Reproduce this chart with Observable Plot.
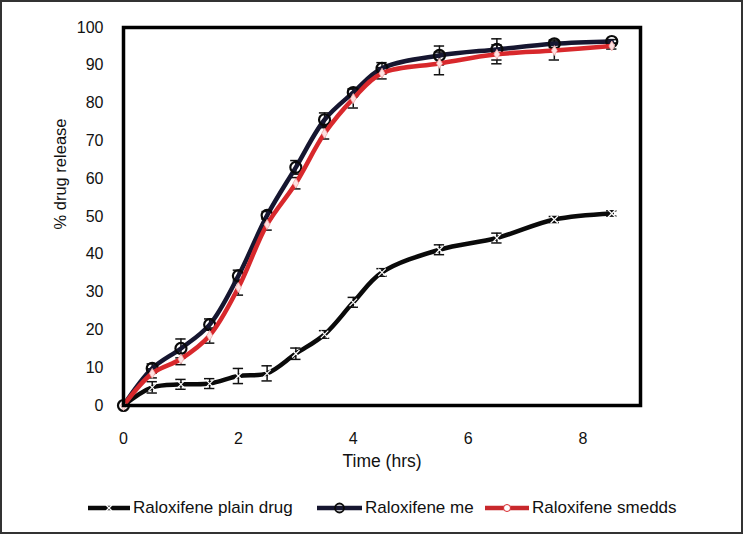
<!DOCTYPE html>
<html><head><meta charset="utf-8">
<script src="https://cdn.jsdelivr.net/npm/d3@7"></script>
<script src="https://cdn.jsdelivr.net/npm/@observablehq/plot@0.6"></script>
<style>
html,body{margin:0;padding:0;background:#fff;}
#wrap{width:743px;height:534px;position:relative;font-family:"Liberation Sans",Arial,sans-serif;overflow:hidden;}
#chart{position:absolute;left:0;top:0;}
#chart g[aria-label$="tick label"]{font-size:16px;}
#border{position:absolute;left:0;top:0;width:743px;height:534px;box-sizing:border-box;border:2px solid #333;pointer-events:none;}
#legend{position:absolute;left:0;top:496px;width:743px;font-size:17px;color:#111;}
.item{position:absolute;top:0;display:flex;align-items:center;height:24px;}
</style></head>
<body><div id="wrap"><div id="chart"></div><div id="legend"></div><div id="border"></div></div>
<script>
const time = [0, 0.5, 1, 1.5, 2, 2.5, 3, 3.5, 4, 4.5, 5.5, 6.5, 7.5, 8.5];
const plain = [0, 4.8, 5.6, 5.8, 7.8, 8.5, 13.7, 18.8, 27.3, 35.2, 41.2, 44.3, 49.2, 50.8];
const plainErr = [0.5, 1.5, 1.3, 1.3, 2, 2, 1.5, 1, 1.3, 1, 1.3, 1.3, 0.8, 0.7];
const me = [0, 9.8, 15.1, 21.4, 34.3, 50.3, 63.0, 75.6, 82.8, 89.2, 92.6, 94.2, 95.7, 96.3];
const meErr = [0.5, 1.2, 2.5, 1.5, 1.5, 1, 1.8, 1.8, 1, 1.5, 2.5, 2.8, 1, 0.5];
const smedds = [0, 8.5, 12.3, 18.5, 31.2, 47.9, 58.8, 72.0, 81.2, 87.9, 90.5, 92.9, 93.9, 95.1];
const smeddsErr = [0.5, 1.2, 1.5, 2, 2, 1.5, 1.5, 1.5, 2.5, 1.5, 3, 2.5, 2.5, 0.8];
const seriesNames = ["Raloxifene plain drug", "Raloxifene me", "Raloxifene smedds"];
const xTicks = [0, 2, 4, 6, 8];
const yTicks = [0, 10, 20, 30, 40, 50, 60, 70, 80, 90, 100];

const mk = (vals, errs, name) => time.map((t, i) => ({t, v: vals[i], e: errs[i], name}));
const dPlain = mk(plain, plainErr, seriesNames[0]);
const dMe = mk(me, meErr, seriesNames[1]);
const dSm = mk(smedds, smeddsErr, seriesNames[2]);
const all = [...dPlain, ...dMe, ...dSm].filter(d => d.t > 0);
const cap = 0.09;

const chart = Plot.plot({
  width: 743, height: 490,
  marginLeft: 123, marginRight: 103, marginTop: 27, marginBottom: 85,
  x: {domain: [0, 9]},
  y: {domain: [0, 100]},
  style: {fontFamily: "Liberation Sans, Arial, sans-serif", fontSize: "16px", color: "#111"},
  marks: [
    Plot.ruleX(all, {x: "t", y1: d => d.v - d.e, y2: d => d.v + d.e, stroke: "#111", strokeWidth: 1.5}),
    Plot.ruleY(all, {y: d => d.v - d.e, x1: d => d.t - cap, x2: d => d.t + cap, stroke: "#111", strokeWidth: 1.5}),
    Plot.ruleY(all, {y: d => d.v + d.e, x1: d => d.t - cap, x2: d => d.t + cap, stroke: "#111", strokeWidth: 1.5}),
    Plot.line(dPlain, {x: "t", y: "v", stroke: "#0a0a0a", strokeWidth: 4.5, curve: "catmull-rom"}),
    Plot.dot(dPlain, {x: "t", y: "v", symbol: "times", r: 3.5, stroke: "#fff", strokeWidth: 1.2}),
    Plot.line(dMe, {x: "t", y: "v", stroke: "#161630", strokeWidth: 4.5, curve: "catmull-rom"}),
    Plot.dot(dMe, {x: "t", y: "v", r: 5.5, stroke: "#0a0a0a", strokeWidth: 2.2, fill: "none"}),
    Plot.line(dSm, {x: "t", y: "v", stroke: "#d8282c", strokeWidth: 4.5, curve: "catmull-rom"}),
    Plot.dot(dSm, {x: "t", y: "v", symbol: "diamond", r: 3, fill: "#fde0e0", stroke: "#f4b0b0", strokeWidth: 0.8}),
    Plot.frame({stroke: "#000", strokeWidth: 3.5}),
    Plot.axisY(yTicks, {tickSize: 0, tickPadding: 20, fontSize: 16, label: null}),
    Plot.axisX(xTicks, {tickSize: 0, tickPadding: 27, fontSize: 16, label: null}),
    Plot.text(["% drug release"], {frameAnchor: "left", dx: -63, dy: 13, rotate: -90, fontSize: 16.5}),
    Plot.text(["Time (hrs)"], {frameAnchor: "bottom", dy: 61, fontSize: 17.5})
  ]
});
document.getElementById("chart").appendChild(chart);

const leg = document.getElementById("legend");
const swatches = [
  {left: 88, textLeft: 133, color: "#0a0a0a", sym: "x"},
  {left: 317, textLeft: 365, color: "#161630", sym: "o"},
  {left: 485, textLeft: 532, color: "#c8282c", sym: "d"}
];
seriesNames.forEach((name, i) => {
  const s = swatches[i];
  const w = s.textLeft - s.left;
  const cx = (w - 3) / 2;
  const div = document.createElement("div");
  div.className = "item";
  div.style.left = s.left + "px";
  let marker = "";
  if (s.sym === "x") marker = `<path d="M${cx-3},9 L${cx+3},15 M${cx+3},9 L${cx-3},15" stroke="#fff" stroke-width="1.3"/>`;
  if (s.sym === "o") marker = `<circle cx="${cx}" cy="12" r="4.5" fill="none" stroke="#0a0a0a" stroke-width="1.8"/>`;
  if (s.sym === "d") marker = `<circle cx="${cx}" cy="12" r="3.5" fill="#fff" stroke="#d8282c" stroke-width="1"/>`;
  div.innerHTML = `<svg width="${w}" height="24"><line x1="0" x2="${w - 3}" y1="12" y2="12" stroke="${s.color}" stroke-width="4.5"/>${marker}</svg><span>${name}</span>`;
  leg.appendChild(div);
});
</script></body></html>
